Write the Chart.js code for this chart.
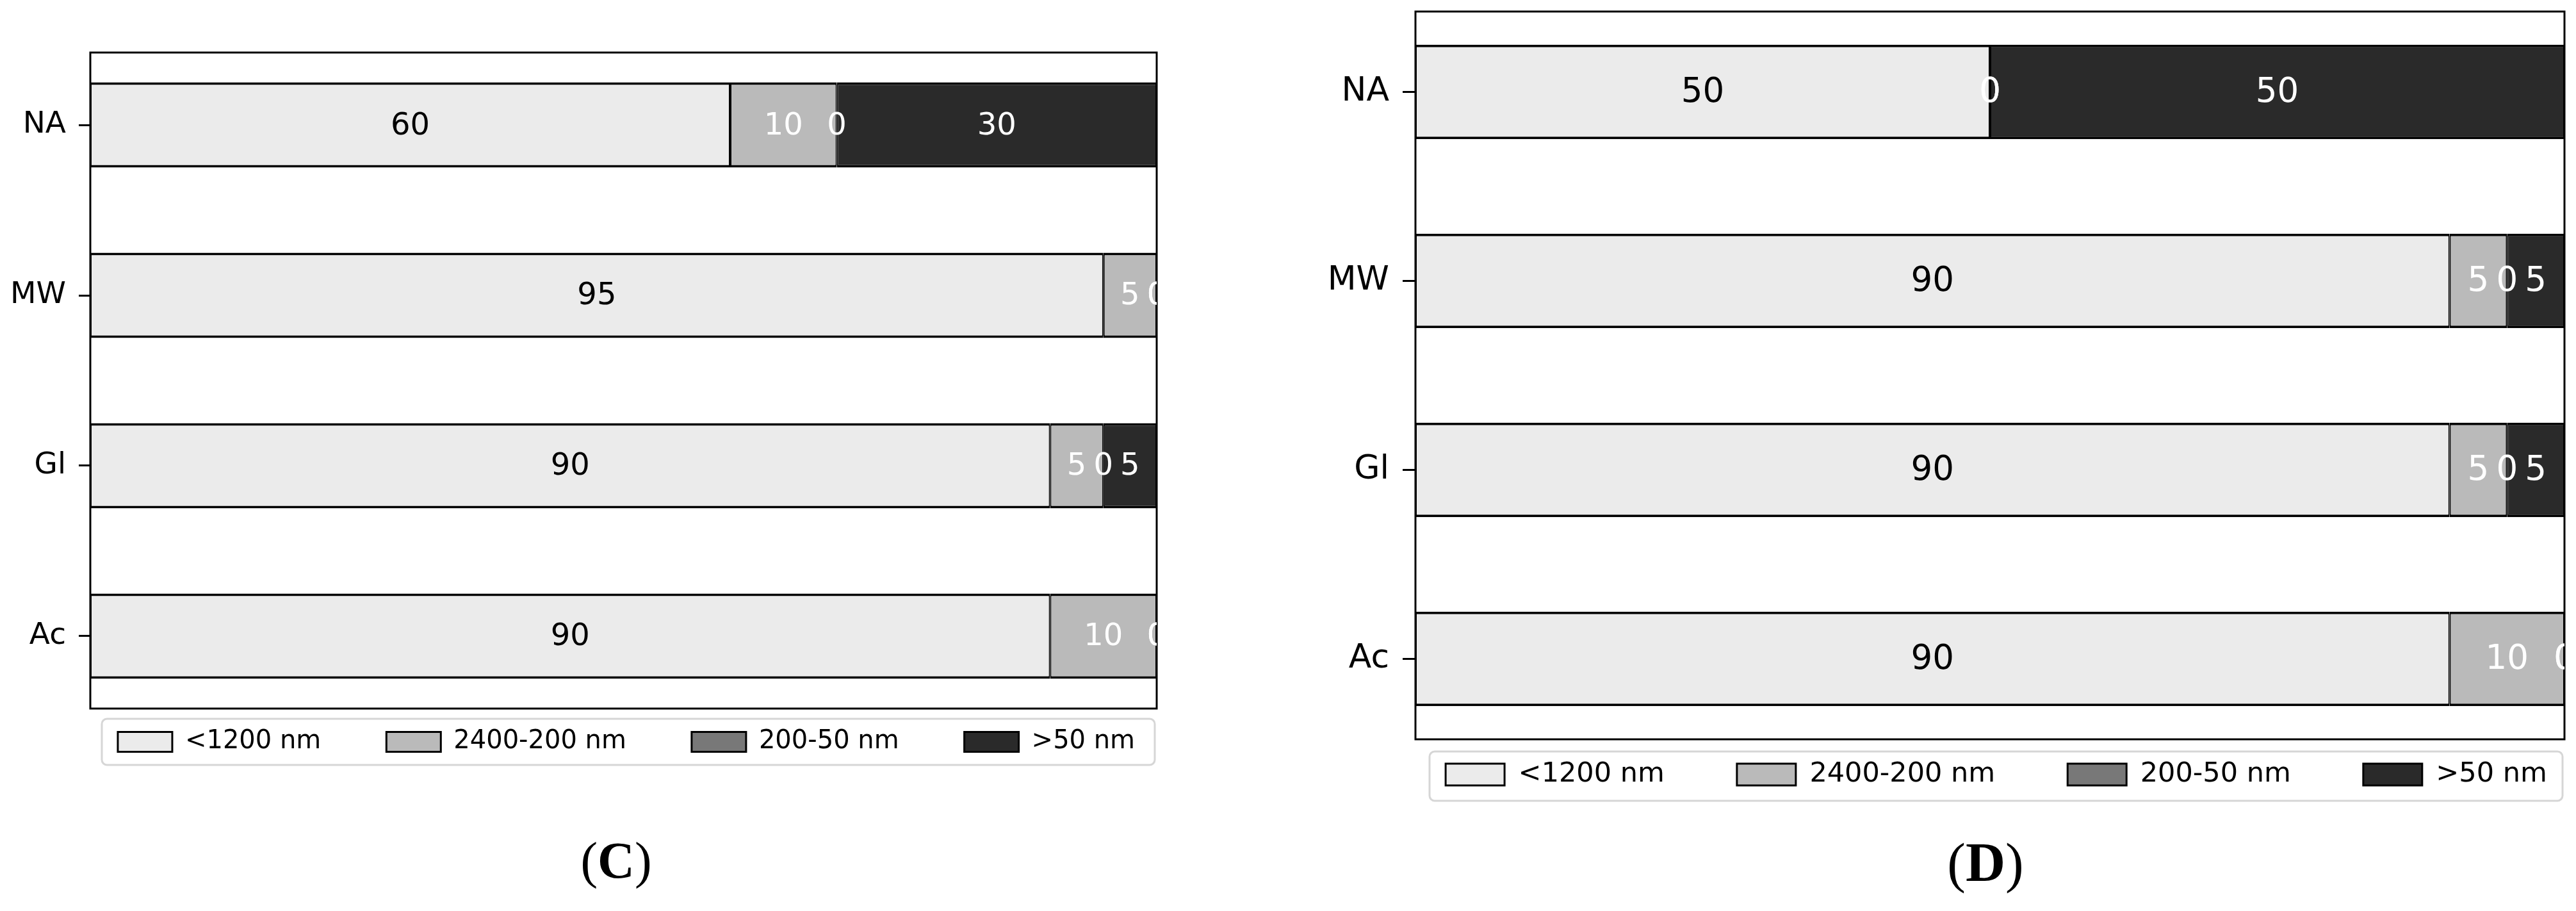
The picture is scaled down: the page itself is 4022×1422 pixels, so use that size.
<!DOCTYPE html>
<html>
<head>
<meta charset="utf-8">
<script src="https://cdn.jsdelivr.net/npm/chart.js@4.4.1/dist/chart.umd.min.js"></script>
<style>
  html, body { margin: 0; padding: 0; background: #fff; overflow: hidden; }
  #page { position: relative; width: 4022px; height: 1422px; overflow: hidden; background: #fff; }
  canvas { position: absolute; top: 0; }
  #chartC { left: -300px; }
  #chartD { left: 1900px; }
</style>
</head>
<body>
<div id="page">
  <canvas id="chartC" width="2120" height="1422"></canvas>
  <canvas id="chartD" width="2122" height="1422"></canvas>
</div>
<script>
// categories from bottom to top, like the original barh plot
const categories = ['Ac', 'Gl', 'MW', 'NA'];
const sizeClasses = ['<1200 nm', '2400-200 nm', '200-50 nm', '>50 nm'];
const fillColors = ['#ebebeb', '#bababa', '#787878', '#2a2a2a'];
const labelColors = ['#000000', '#ffffff', '#ffffff', '#ffffff'];

// panel C (%)
const c_lt1200 = [90, 90, 95, 60];
const c_2400_200 = [10, 5, 5, 10];
const c_200_50 = [0, 0, 0, 0];
const c_gt50 = [0, 5, 0, 30];

// panel D (%)
const d_lt1200 = [90, 90, 90, 50];
const d_2400_200 = [10, 5, 5, 0];
const d_200_50 = [0, 0, 0, 0];
const d_gt50 = [0, 5, 5, 50];

Chart.defaults.font.family = '"DejaVu Sans", sans-serif';
Chart.defaults.color = '#000';

function makeChart(canvasId, series, opt) {
    const datasets = series.map(function(vals, k) {
        return {
            label: sizeClasses[k],
            data: vals.map(function(v, i) { return {x: v, y: i}; }),
            backgroundColor: fillColors[k],
            borderColor: '#000',
            borderWidth: {top: 4, bottom: 4, left: 2, right: 2},
            borderSkipped: false,
            barPercentage: 0.5,
            categoryPercentage: 1
        };
    });

    // legend placement, frame, value labels and panel letter
    const extras = {
        id: 'extras_' + canvasId,
        afterLayout(chart) {
            const lg = chart.legend;
            lg.left = opt.legendCx - 1100;
            lg.right = opt.legendCx + 1100;
            lg.width = 2200;
            lg.top = opt.legendY - opt.legendPad - opt.legendFont / 2;
            lg.bottom = lg.top + lg.height;
        },
        beforeDraw(chart) {
            const ctx = chart.ctx;
            const f = opt.legendFrame;
            ctx.save();
            ctx.beginPath();
            ctx.roundRect(f[0], f[1], f[2] - f[0], f[3] - f[1], 8);
            ctx.fillStyle = '#fff';
            ctx.fill();
            ctx.lineWidth = 3;
            ctx.strokeStyle = '#d6d6d6';
            ctx.stroke();
            ctx.restore();
        },
        afterDatasetsDraw(chart) {
            const ctx = chart.ctx;
            const a = chart.chartArea;
            ctx.save();
            ctx.lineWidth = 3;
            ctx.strokeStyle = '#000';
            ctx.strokeRect(a.left, a.top, a.right - a.left, a.bottom - a.top);
            ctx.beginPath();
            ctx.rect(a.left, a.top, a.right - a.left, a.bottom - a.top);
            ctx.clip();
            ctx.font = opt.valueFont + 'px "DejaVu Sans"';
            ctx.textAlign = 'center';
            ctx.textBaseline = 'middle';
            chart.data.datasets.forEach(function(ds, k) {
                chart.getDatasetMeta(k).data.forEach(function(bar, i) {
                    const p = bar.getProps(['x', 'y', 'base'], true);
                    ctx.fillStyle = labelColors[k];
                    ctx.fillText(String(ds.data[i].x), (p.x + p.base) / 2, p.y + 2);
                });
            });
            ctx.restore();
        },
        afterDraw(chart) {
            const ctx = chart.ctx;
            const reg = opt.tagFont + 'px "Liberation Serif"';
            const bold = 'bold ' + reg;
            ctx.save();
            ctx.fillStyle = '#000';
            ctx.textAlign = 'left';
            ctx.textBaseline = 'middle';
            ctx.font = reg;
            const wOpen = ctx.measureText('(').width;
            const wClose = ctx.measureText(')').width;
            ctx.font = bold;
            const wTag = ctx.measureText(opt.tag).width;
            let x = opt.tagX - (wOpen + wTag + wClose) / 2;
            ctx.font = reg;
            ctx.fillText('(', x, opt.tagY);
            x += wOpen;
            ctx.font = bold;
            ctx.fillText(opt.tag, x, opt.tagY);
            x += wTag;
            ctx.font = reg;
            ctx.fillText(')', x, opt.tagY);
            ctx.restore();
        }
    };

    return new Chart(document.getElementById(canvasId), {
        type: 'bar',
        data: { datasets: datasets },
        options: {
            indexAxis: 'y',
            responsive: false,
            animation: false,
            events: [],
            layout: { padding: opt.padding },
            scales: {
                x: {
                    type: 'linear',
                    min: 0,
                    max: 100,
                    stacked: true,
                    display: false
                },
                y: {
                    type: 'linear',
                    min: -0.425,
                    max: 3.425,
                    offset: false,
                    stacked: true,
                    afterBuildTicks: function(scale) {
                        scale.ticks = categories.map(function(_, i) { return {value: i}; });
                    },
                    afterFit: function(scale) {
                        scale.width = opt.axisWidth;
                        scale.paddingTop = 0;
                        scale.paddingBottom = 0;
                    },
                    ticks: {
                        font: { size: opt.tickFont },
                        color: '#000',
                        padding: opt.tickPad,
                        callback: function(value) { return categories[value]; }
                    },
                    grid: {
                        display: true,
                        offset: false,
                        drawOnChartArea: false,
                        drawTicks: true,
                        tickLength: opt.tickLen,
                        tickWidth: 3,
                        tickColor: '#000'
                    },
                    border: { display: false }
                }
            },
            plugins: {
                legend: {
                    display: true,
                    position: 'bottom',
                    labels: {
                        font: { size: opt.legendFont },
                        color: '#000',
                        boxWidth: opt.boxW,
                        boxHeight: opt.boxH,
                        padding: opt.legendPad
                    }
                },
                title: { display: false },
                tooltip: { enabled: false }
            }
        },
        plugins: [extras]
    });
}

makeChart('chartC', [c_lt1200, c_2400_200, c_200_50, c_gt50], {
    padding: {left: 0, top: 82, right: 14, bottom: 164},
    axisWidth: 441,
    tickFont: 47, tickPad: 20, tickLen: 18,
    valueFont: 48,
    legendFont: 40, boxW: 85, boxH: 31, legendPad: 102,
    legendY: 1158, legendCx: 1278,
    legendFrame: [459, 1122, 2103, 1194],
    tag: 'C', tagX: 1262, tagY: 1349, tagFont: 80
});

makeChart('chartD', [d_lt1200, d_2400_200, d_200_50, d_gt50], {
    padding: {left: 0, top: 18, right: 18, bottom: 102},
    axisWidth: 310,
    tickFont: 52, tickPad: 21, tickLen: 20,
    valueFont: 53,
    legendFont: 43, boxW: 92, boxH: 34, legendPad: 113,
    legendY: 1209, legendCx: 1217,
    legendFrame: [332, 1173, 2101, 1250],
    tag: 'D', tagX: 1200, tagY: 1353, tagFont: 86
});
</script>
</body>
</html>
